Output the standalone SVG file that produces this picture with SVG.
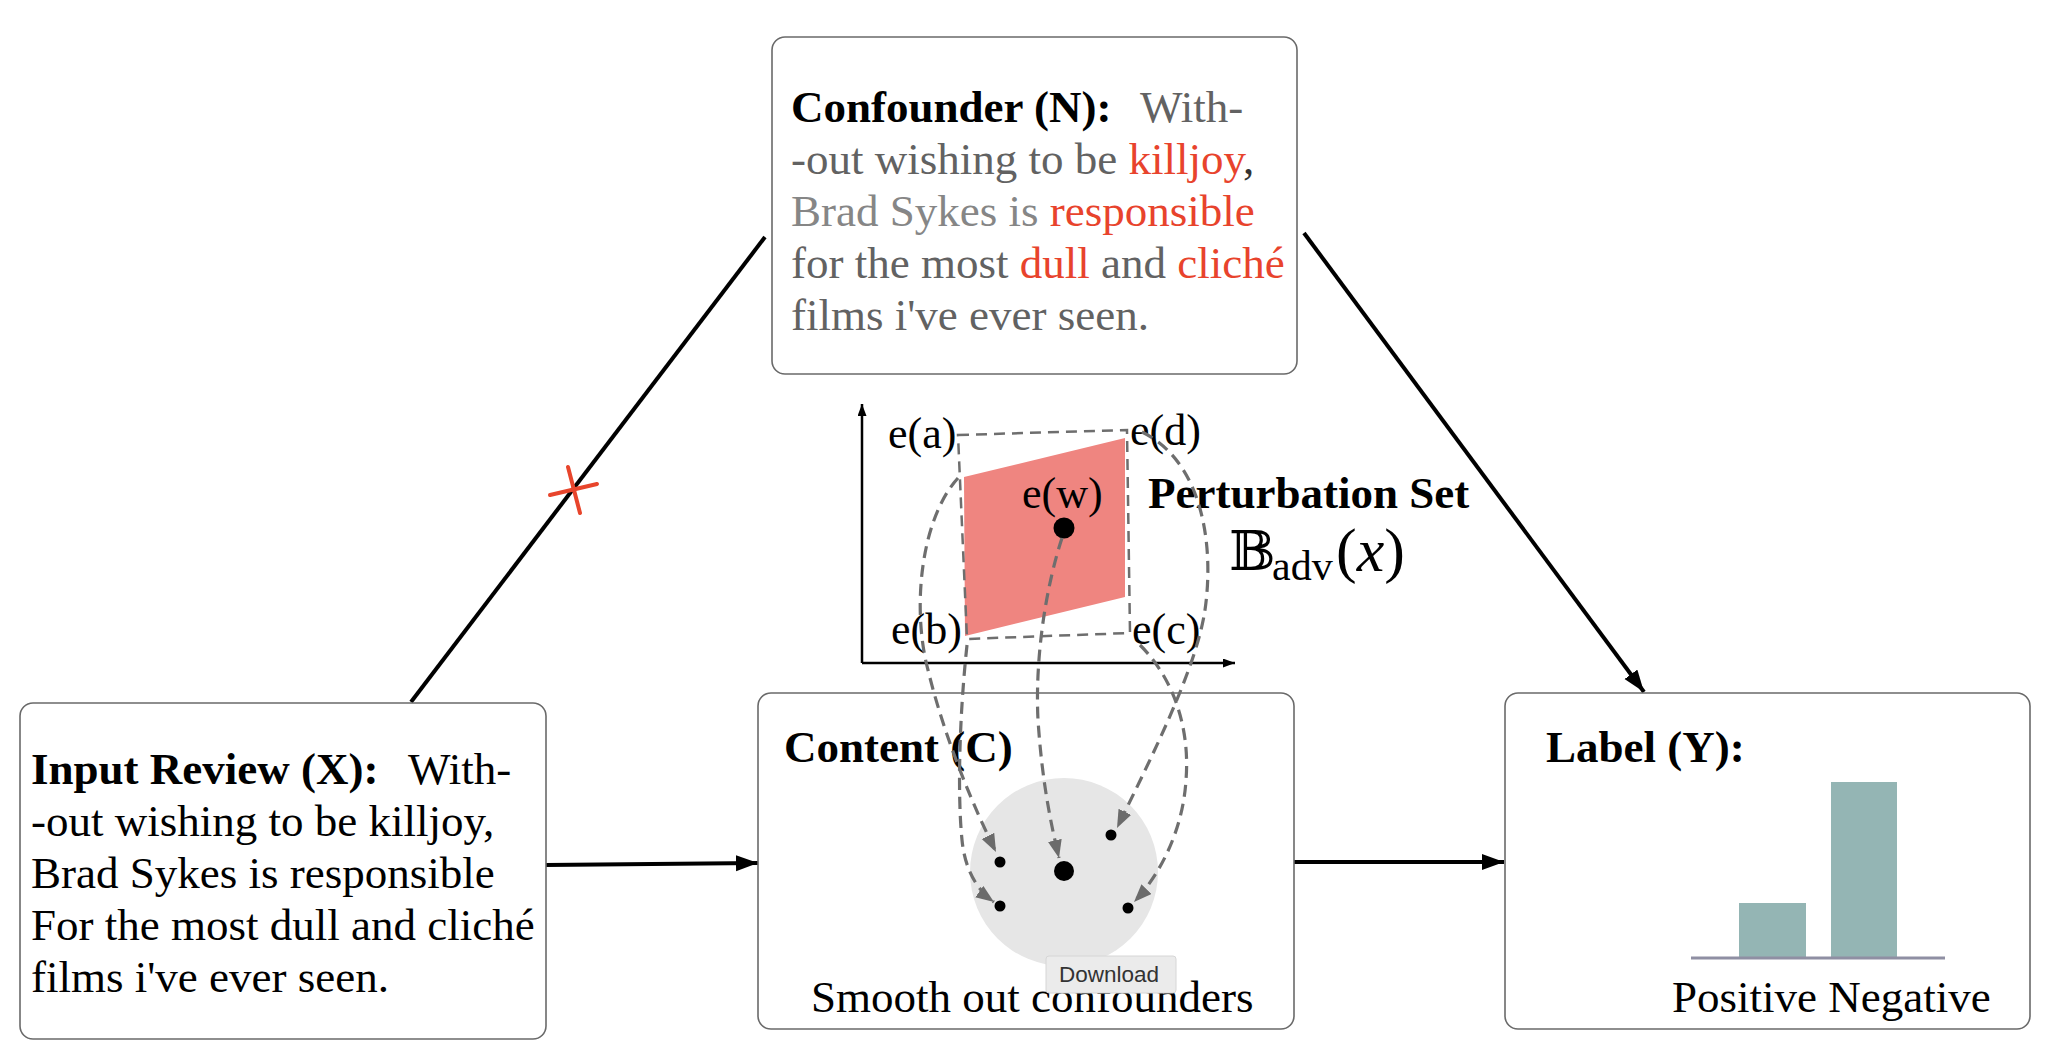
<svg xmlns="http://www.w3.org/2000/svg" width="2052" height="1056" viewBox="0 0 2052 1056">
<style>
.box{fill:#fff;stroke:#6a6a6a;stroke-width:1.6}
.t{font-family:"Liberation Serif","Times New Roman",serif;font-size:45px;fill:#000}
.b{font-weight:bold}
.g1{fill:#626262}
.g2{fill:#868686}
.red{fill:#e8432c}
.e{font-family:"Liberation Serif","Times New Roman",serif;font-size:44px;fill:#000}
.conn{stroke:#000;stroke-width:4;fill:none}
.dash{stroke:#6e6e6e;stroke-width:3.2;fill:none;stroke-dasharray:12 7}
.dot{fill:#000}
</style>
<defs>
<marker id="ah" markerUnits="userSpaceOnUse" markerWidth="24" markerHeight="18" refX="22" refY="8" orient="auto">
<path d="M0,0 L22,8 L0,16 Z" fill="#000"/>
</marker>
<marker id="ax" markerUnits="userSpaceOnUse" markerWidth="14" markerHeight="10" refX="12" refY="4.5" orient="auto">
<path d="M0,0 L12,4.5 L0,9 Z" fill="#000"/>
</marker>
<marker id="gh" markerUnits="userSpaceOnUse" markerWidth="20" markerHeight="16" refX="18" refY="7" orient="auto">
<path d="M0,0 L18,7 L0,14 Z" fill="#6b6b6b"/>
</marker>
</defs>

<g id="connectors">
<line class="conn" x1="411" y1="702" x2="765" y2="237"/>
<line class="conn" x1="1304" y1="233" x2="1644" y2="692" marker-end="url(#ah)"/>
<line class="conn" x1="546" y1="865" x2="758" y2="863" marker-end="url(#ah)"/>
<line class="conn" x1="1294" y1="862" x2="1504" y2="862" marker-end="url(#ah)"/>
<g id="cross" stroke="#e8452c" stroke-width="4" stroke-linecap="round">
<line x1="550" y1="495" x2="597" y2="484"/>
<line x1="568" y1="467" x2="580" y2="513"/>
</g>
</g>

<g id="node-input">
<rect class="box" x="20" y="703" width="526" height="336" rx="13"/>
<text class="t" x="31" y="784"><tspan class="b">Input Review (X):</tspan><tspan x="408">With-</tspan></text>
<text class="t" x="31" y="836">-out wishing to be killjoy,</text>
<text class="t" x="31" y="888">Brad Sykes is responsible</text>
<text class="t" x="31" y="940">For the most dull and cliché</text>
<text class="t" x="31" y="992">films i've ever seen.</text>
</g>

<g id="node-confounder">
<rect class="box" x="772" y="37" width="525" height="337" rx="13"/>
<text class="t" x="791" y="122"><tspan class="b">Confounder (N):</tspan><tspan x="1140" class="g1">With-</tspan></text>
<text class="t" x="791" y="174"><tspan class="g1">-out wishing to be </tspan><tspan class="red">killjoy</tspan><tspan fill="#333">,</tspan></text>
<text class="t" x="791" y="226"><tspan class="g2">Brad Sykes is </tspan><tspan class="red">responsible</tspan></text>
<text class="t" x="791" y="278"><tspan class="g1">for the most </tspan><tspan class="red">dull</tspan><tspan class="g1"> and </tspan><tspan class="red">cliché</tspan></text>
<text class="t g1" x="791" y="330">films i've ever seen.</text>
</g>

<g id="perturbation-set">
<line x1="862" y1="663" x2="862" y2="404" stroke="#000" stroke-width="2.5" marker-end="url(#ax)"/>
<line x1="862" y1="663" x2="1235" y2="663" stroke="#000" stroke-width="2.5" marker-end="url(#ax)"/>
<polygon points="964,477 1125,438 1125,597 965,636" fill="#ef8580"/>
<polygon points="958,435 1127,430 1130,633 967,639" fill="none" stroke="#6e6e6e" stroke-width="2.5" stroke-dasharray="11 7"/>
<text class="e" x="888" y="448">e(a)</text>
<text class="e" x="1130" y="445">e(d)</text>
<text class="e" x="1022" y="508">e(w)</text>
<text class="e" x="891" y="644">e(b)</text>
<text class="e" x="1132" y="644">e(c)</text>
<circle class="dot" cx="1064" cy="528" r="10.5"/>
<text class="t b" x="1148" y="508">Perturbation Set</text>
<text x="1229" y="570" font-family="DejaVu Serif, DejaVu Sans, serif" font-size="55" fill="#000">𝔹</text>
<text class="t" x="1272" y="580" style="font-size:42px">adv</text>
<text x="1336" y="571" font-family="Liberation Serif, serif" font-size="62" fill="#000">(<tspan font-style="italic">x</tspan>)</text>
</g>

<g id="node-content">
<rect class="box" x="758" y="693" width="536" height="336" rx="13"/>
<text class="t b" x="784" y="762">Content (C)</text>
<circle cx="1064" cy="872" r="94" fill="#e6e6e6"/>
<circle class="dot" cx="1064" cy="871" r="10"/>
<circle class="dot" cx="1000" cy="862" r="5.5"/>
<circle class="dot" cx="1000" cy="906" r="5.5"/>
<circle class="dot" cx="1111" cy="835" r="5.5"/>
<circle class="dot" cx="1128" cy="908" r="5.5"/>
<text class="t" x="811" y="1012">Smooth out confounders</text>
</g>

<g id="dashed-maps">
<path class="dash" d="M958,478 C920,520 912,610 928,670 C945,740 975,810 996,852" marker-end="url(#gh)"/>
<path class="dash" d="M967,645 C960,710 957,790 962,840 C965,870 977,890 994,902" marker-end="url(#gh)"/>
<path class="dash" d="M1062,538 C1045,590 1035,660 1038,720 C1042,780 1050,820 1059,858" marker-end="url(#gh)"/>
<path class="dash" d="M1142,432 C1200,460 1215,540 1205,610 C1196,670 1150,760 1117,828" marker-end="url(#gh)"/>
<path class="dash" d="M1140,645 C1175,680 1190,730 1186,780 C1183,830 1160,875 1134,902" marker-end="url(#gh)"/>
</g>

<g id="node-label">
<rect class="box" x="1505" y="693" width="525" height="336" rx="13"/>
<text class="t b" x="1546" y="762">Label (Y):</text>
<rect x="1739" y="903" width="67" height="55" fill="#94b5b4"/>
<rect x="1831" y="782" width="66" height="176" fill="#94b5b4"/>
<line x1="1691" y1="958" x2="1945" y2="958" stroke="#8f8fa3" stroke-width="3"/>
<text class="t" x="1672" y="1012">Positive Negative</text>
</g>

<g id="tooltip">
<rect x="1046" y="956" width="130" height="37" rx="3" fill="#ebebeb" stroke="#d6d6d6" stroke-width="1"/>
<text x="1059" y="982" font-family="Liberation Sans, Arial, sans-serif" font-size="22.5" fill="#333">Download</text>
</g>
</svg>
